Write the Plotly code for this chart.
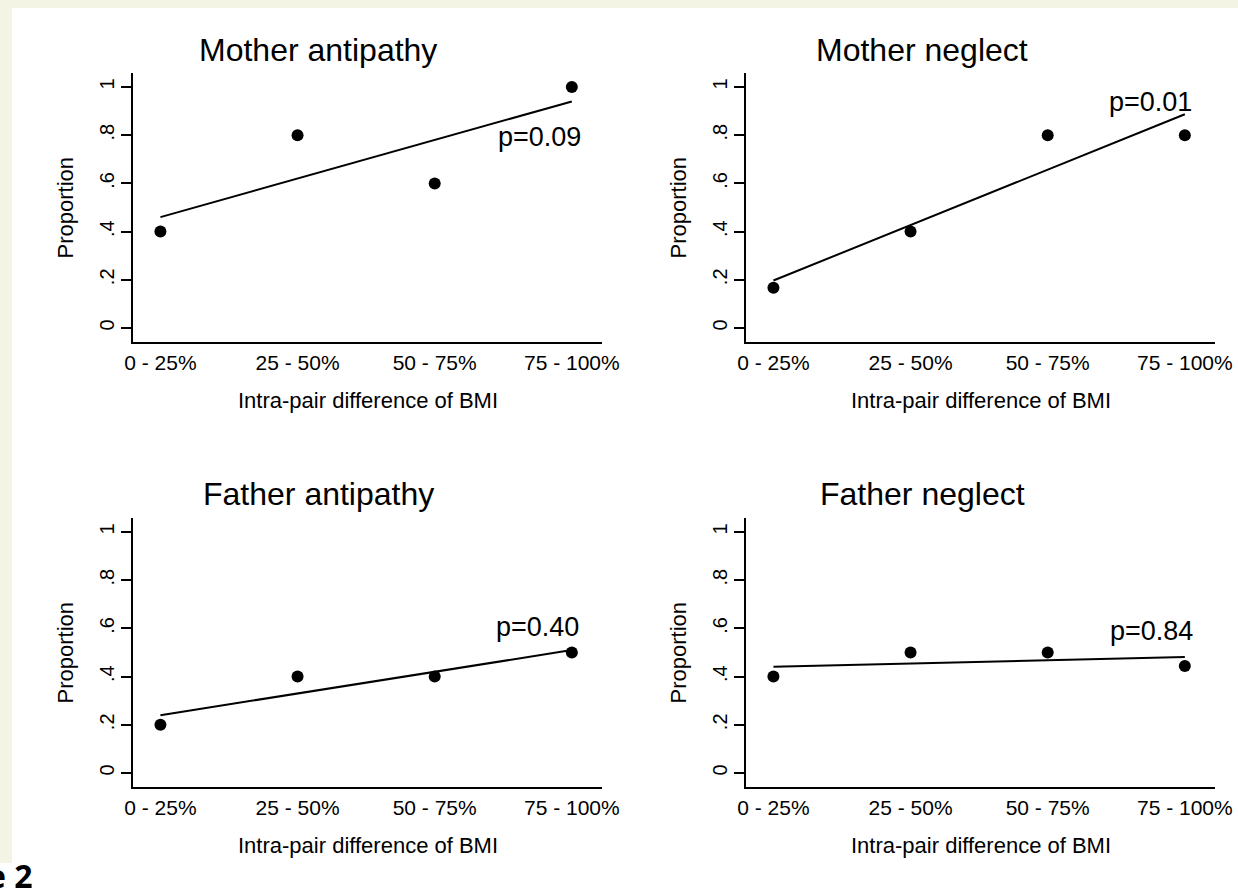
import plotly.graph_objects as go

# ---------------- data ----------------
categories = ["0 - 25%", "25 - 50%", "50 - 75%", "75 - 100%"]
cat_pos = [1, 2, 3, 4]
panel_titles = ["Mother antipathy", "Mother neglect", "Father antipathy", "Father neglect"]
mother_antipathy = [0.40, 0.80, 0.60, 1.00]
mother_neglect = [0.167, 0.40, 0.80, 0.80]
father_antipathy = [0.20, 0.40, 0.40, 0.50]
father_neglect = [0.40, 0.50, 0.50, 0.444]
fit_x = [1, 4]
fit_mother_antipathy = [0.46, 0.94]
fit_mother_neglect = [0.197, 0.887]
fit_father_antipathy = [0.24, 0.51]
fit_father_neglect = [0.441, 0.481]
p_values = ["p=0.09", "p=0.01", "p=0.40", "p=0.84"]
ytick_vals = [0, 0.2, 0.4, 0.6, 0.8, 1.0]
ytick_text = ["0", ".2", ".4", ".6", ".8", "1"]
x_axis_title = "Intra-pair difference of BMI"
y_axis_title = "Proportion"

series = [mother_antipathy, mother_neglect, father_antipathy, father_neglect]
fits = [fit_mother_antipathy, fit_mother_neglect, fit_father_antipathy, fit_father_neglect]

# ---------------- layout geometry (pixels) ----------------
W, H = 1238, 893
FONT = "Liberation Sans, Arial, Helvetica, sans-serif"
BG = "#f4f4e4"


def fx(px):
    return px / W


def fy(py):
    return 1 - py / H


col_x = [(133, 602), (746, 1215)]
row_y = [(73, 342), (518, 787)]
title_pos = [(318, 50), (922, 50), (318, 494), (922, 494)]
p_pos = [(539, 137), (1150, 102), (537, 627), (1151, 631)]

fig = go.Figure()
annotations = []

for i in range(4):
    r, c = divmod(i, 2)
    idx = "" if i == 0 else str(i + 1)
    xa, ya = "x" + idx, "y" + idx
    fig.add_trace(go.Scatter(x=fit_x, y=fits[i], mode="lines",
                             line=dict(color="black", width=2),
                             xaxis=xa, yaxis=ya, showlegend=False, hoverinfo="skip"))
    fig.add_trace(go.Scatter(x=cat_pos, y=series[i], mode="markers",
                             marker=dict(color="black", size=12),
                             xaxis=xa, yaxis=ya, showlegend=False))
    x0, x1 = col_x[c]
    y0, y1 = row_y[r]
    fig.layout["xaxis" + idx] = dict(
        domain=[fx(x0), fx(x1)], range=[0.8, 4.22], anchor=ya, automargin=False,
        tickvals=cat_pos, ticktext=categories, ticks="", showgrid=False,
        zeroline=False, showline=True, linecolor="black", linewidth=2,
        tickfont=dict(family=FONT, size=21, color="black"),
        ticklabelstandoff=1, fixedrange=True)
    fig.layout["yaxis" + idx] = dict(
        domain=[fy(y1), fy(y0)], range=[-0.058, 1.058], anchor=xa, automargin=False,
        tickvals=ytick_vals, ticktext=ytick_text, ticks="outside", ticklen=10,
        tickwidth=1.5, tickcolor="black", tickangle=-90, showgrid=False,
        zeroline=False, showline=True, linecolor="black", linewidth=2,
        tickfont=dict(family=FONT, size=20, color="black"),
        ticklabelstandoff=-1, fixedrange=True)

    tx, ty = title_pos[i]
    annotations.append(dict(text=panel_titles[i], x=fx(tx), y=fy(ty), xref="paper", yref="paper",
                            xanchor="center", yanchor="middle", showarrow=False,
                            font=dict(family=FONT, size=32, color="black")))
    px_, py_ = p_pos[i]
    annotations.append(dict(text=p_values[i], x=fx(px_), y=fy(py_), xref="paper", yref="paper",
                            xanchor="center", yanchor="middle", showarrow=False,
                            font=dict(family=FONT, size=27, color="black")))
    annotations.append(dict(text=x_axis_title, x=fx((x0 + x1) / 2), y=fy(y1 + 58), xref="paper",
                            yref="paper", xanchor="center", yanchor="middle", showarrow=False,
                            font=dict(family=FONT, size=22, color="black")))
    annotations.append(dict(text=y_axis_title, x=fx(x0 - 68), y=fy((y0 + y1) / 2), xref="paper",
                            yref="paper", xanchor="center", yanchor="middle", showarrow=False,
                            textangle=-90, font=dict(family=FONT, size=22, color="black")))

# partially cut figure caption at the bottom-left
annotations.append(dict(text="<b>Figure 2</b>", x=fx(34), y=fy(899), xref="paper", yref="paper",
                        xanchor="right", yanchor="bottom", showarrow=False,
                        font=dict(family="Open Sans, sans-serif", size=32, color="black")))

shapes = [
    dict(type="rect", xref="paper", yref="paper", x0=0, x1=1, y0=fy(8), y1=1.01,
         fillcolor=BG, line=dict(width=0), layer="below"),
    dict(type="rect", xref="paper", yref="paper", x0=-0.01, x1=fx(12), y0=fy(863), y1=1.01,
         fillcolor=BG, line=dict(width=0), layer="below"),
]

fig.update_layout(
    width=W, height=H, margin=dict(l=0, r=0, t=0, b=0, autoexpand=False),
    paper_bgcolor="white", plot_bgcolor="white",
    annotations=annotations, shapes=shapes,
    font=dict(family=FONT, color="black"),
)

fig.write_html("out.html", config={"displayModeBar": False},
               post_script="document.body.style.margin='0';document.body.style.overflow='hidden';")
